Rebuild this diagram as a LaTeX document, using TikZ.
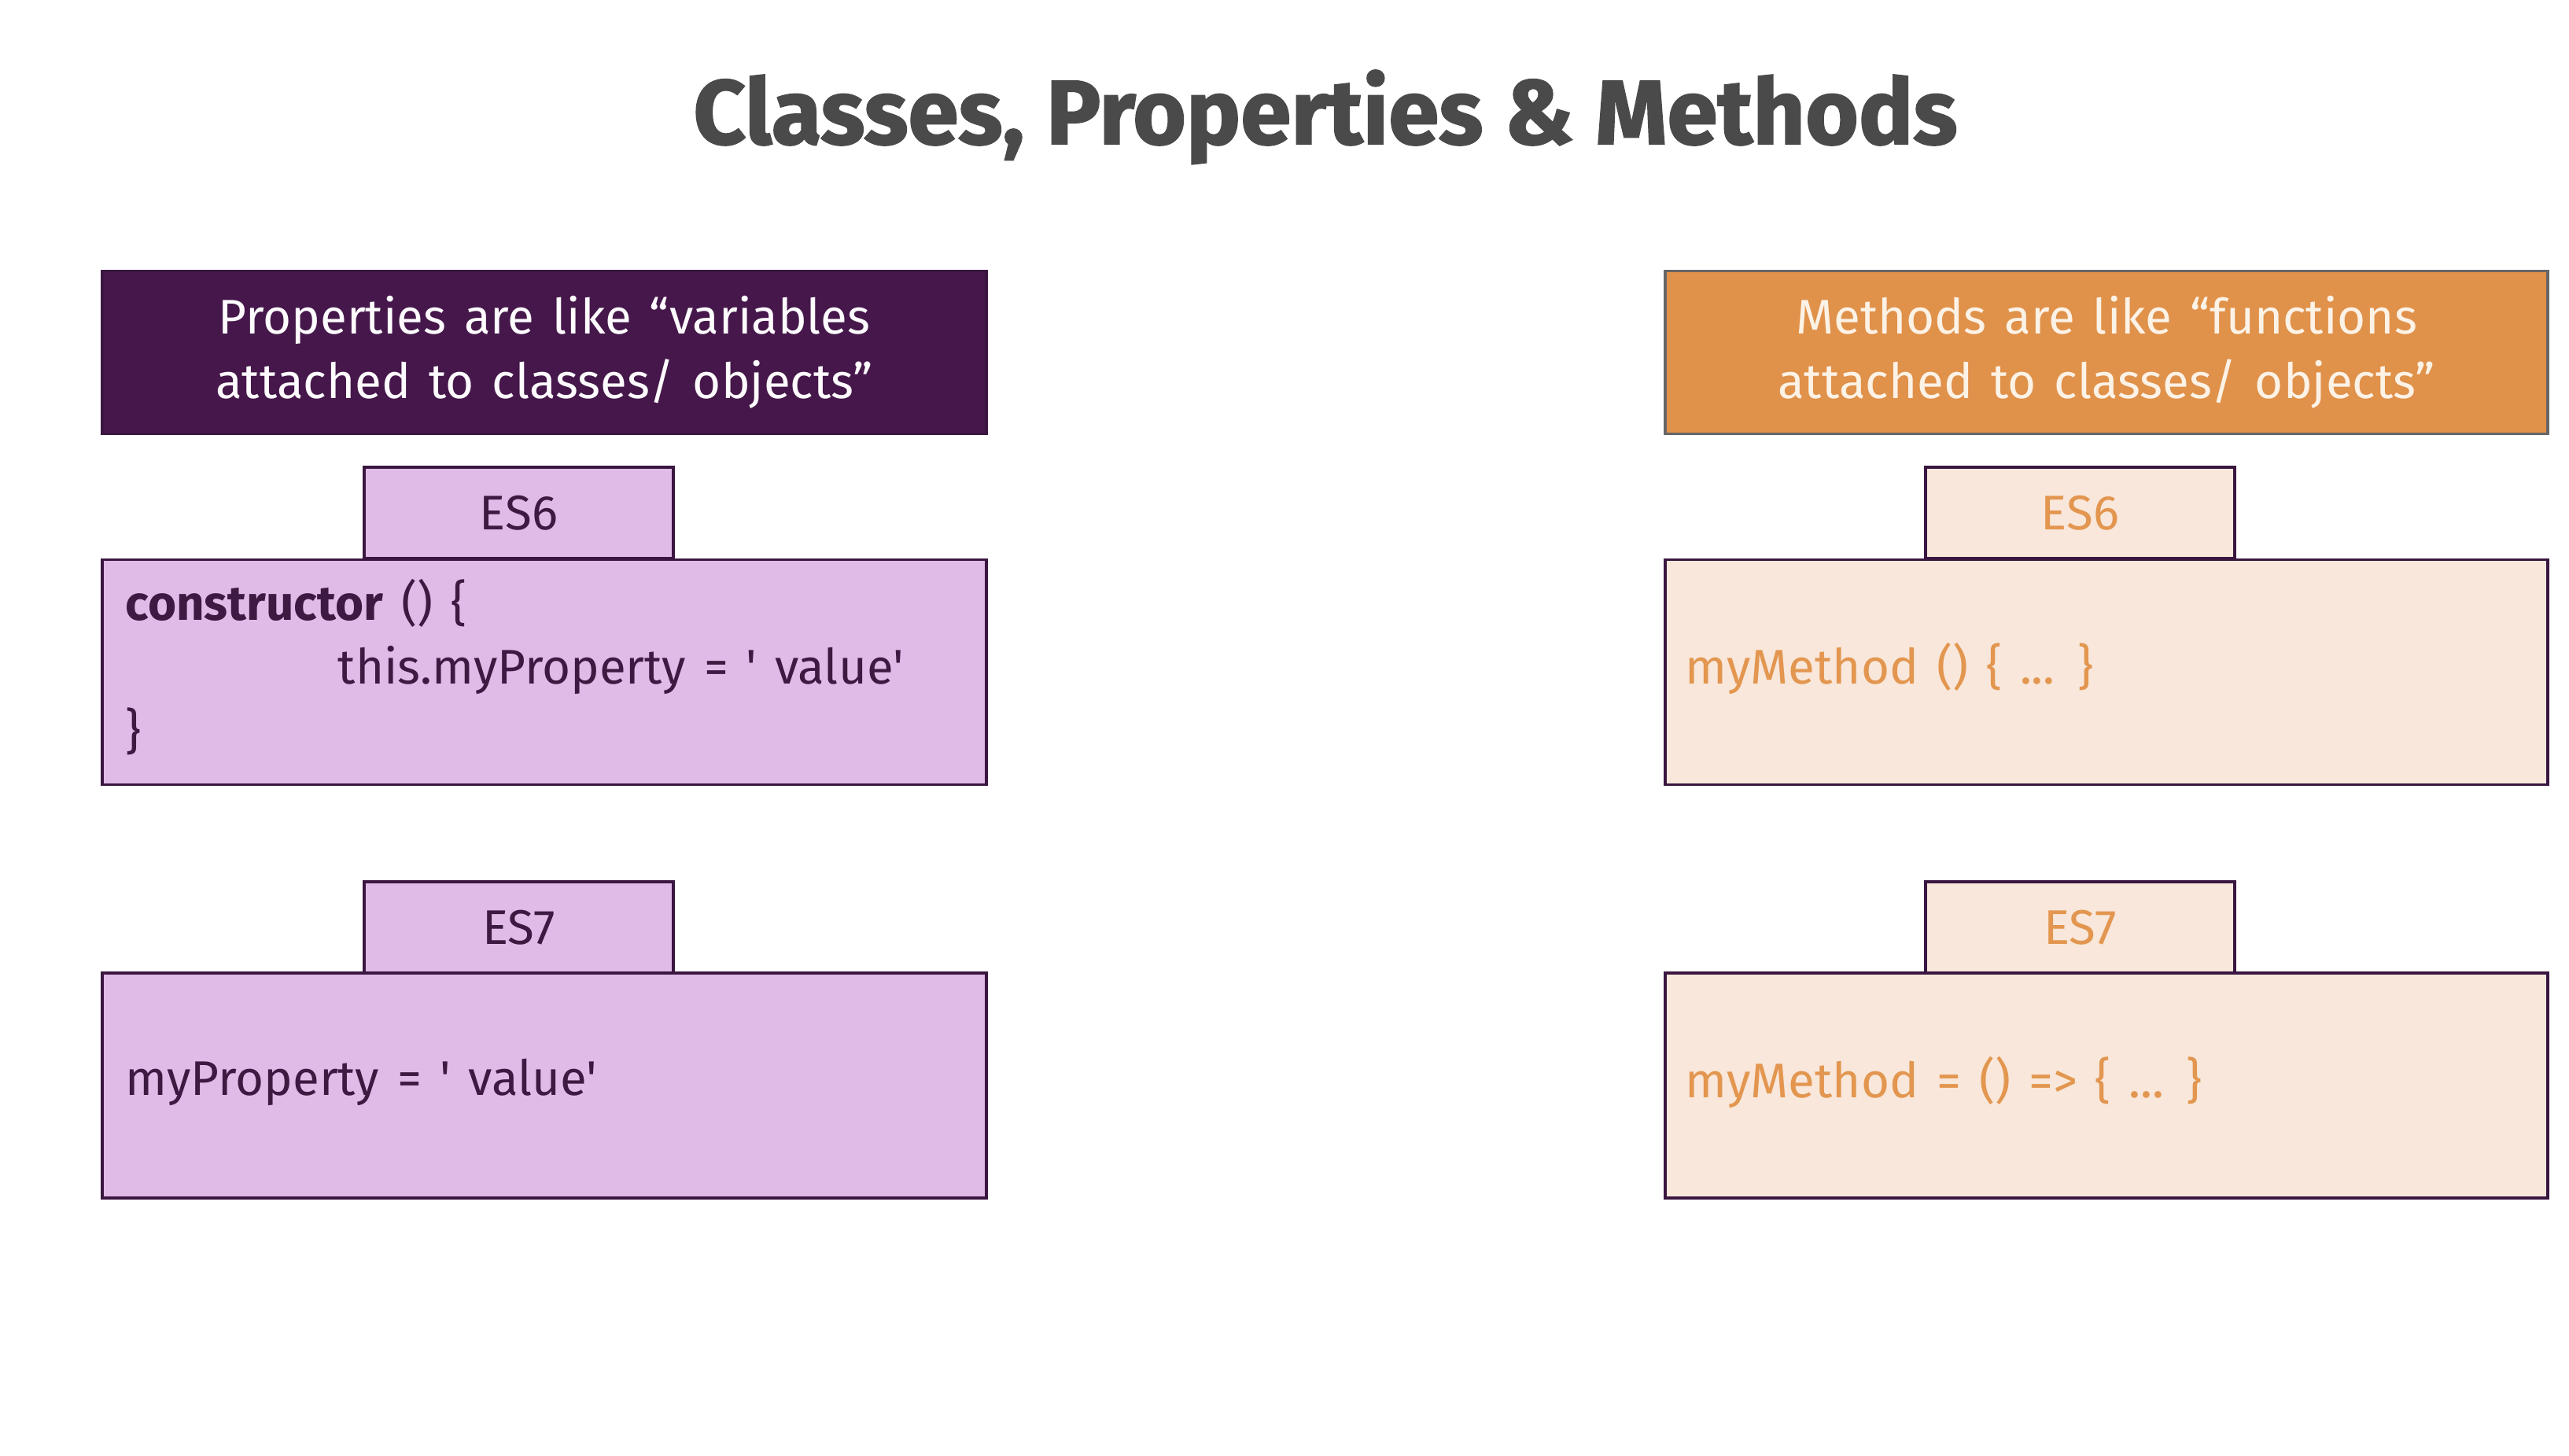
\documentclass[tikz,border=0pt]{standalone}
\usepackage{fontspec}
\setmainfont{Fira Sans}[WordSpace=1.4]
\newfontfamily\titlefont[BoldFeatures={FakeBold=1.5}]{Fira Sans}
\usepackage{xcolor}
\usetikzlibrary{positioning}
\definecolor{deepplum}{HTML}{45174A}
\definecolor{plumline}{HTML}{3A1640}
\definecolor{lilac}{HTML}{E1BBE7}
\definecolor{plumtext}{HTML}{3C1A42}
\definecolor{darkorange}{HTML}{E0914A}
\definecolor{peach}{HTML}{F8E7DA}
\definecolor{peachtext}{HTML}{E3964F}
\definecolor{cream}{HTML}{FCF2E6}
\definecolor{titlegray}{HTML}{4A4A4A}

\begin{document}
\begin{tikzpicture}
  [
    PropHead/.style={rectangle, draw=plumline, fill=deepplum, line width=1.1pt, minimum width=11.24cm, minimum height=2.07cm, align=center, text=white!94!lilac, font=\fontsize{17.6}{23.3}\selectfont},
    MethHead/.style={rectangle, draw=black!60, fill=darkorange, line width=1.1pt, minimum width=11.22cm, minimum height=2.07cm, align=center, text=cream, font=\fontsize{17.6}{23.3}\selectfont},
    PropTab/.style={rectangle, draw=plumline, fill=lilac, line width=1.1pt, minimum width=3.93cm, minimum height=1.16cm, text=plumtext, font=\fontsize{17.6}{23.3}\selectfont},
    MethTab/.style={PropTab, fill=peach, text=peachtext},
    PropBox/.style={rectangle, draw=plumline, fill=lilac, line width=1.1pt, minimum width=11.24cm, minimum height=2.86cm},
    MethBox/.style={PropBox, fill=peach, minimum width=11.22cm},
    PropCode/.style={anchor=west, inner sep=0pt, align=left, text=plumtext, font=\fontsize{17.6}{23.3}\selectfont},
    MethCode/.style={PropCode, text=peachtext}
  ]
  \useasboundingbox (0, 0) rectangle (32.66, -18.50);
  % Title
  \node[anchor=base, text=titlegray, font=\titlefont\bfseries\fontsize{33}{40}\selectfont] (title) at(16.85, -1.83) {Classes, Properties \& Methods};

  % Properties
  \node[PropHead] (prophead) at(6.92, -4.48) {Properties are like “variables\\attached to classes/ objects”};
  \node[PropTab] (propsix) at(6.595, -6.52) {ES6};
  \node[PropBox] (propsixbox) at(6.92, -8.545) {};
  \node[PropCode] (propsixcode) at(1.59, -8.48) {\textbf{constructor} () \{\\\hspace*{2.7cm}this.myProperty = \textquotesingle\ value\textquotesingle\\\}};
  \node[PropTab] (propseven) at(6.595, -11.79) {ES7};
  \node[PropBox] (propsevenbox) at(6.92, -13.80) {};
  \node[PropCode] (propsevencode) at(1.59, -13.76) {myProperty = \textquotesingle\ value\textquotesingle};

  % Methods
  \node[MethHead] (methhead) at(26.78, -4.48) {Methods are like “functions\\attached to classes/ objects”};
  \node[MethTab] (methsix) at(26.445, -6.52) {ES6};
  \node[MethBox] (methsixbox) at(26.78, -8.545) {};
  \node[MethCode] (methsixcode) at(21.42, -8.50) {myMethod () \{ ... \}};
  \node[MethTab] (methseven) at(26.445, -11.79) {ES7};
  \node[MethBox] (methsevenbox) at(26.78, -13.80) {};
  \node[MethCode] (methsevencode) at(21.42, -13.76) {myMethod = () => \{ ... \}};

\end{tikzpicture}
\end{document}
